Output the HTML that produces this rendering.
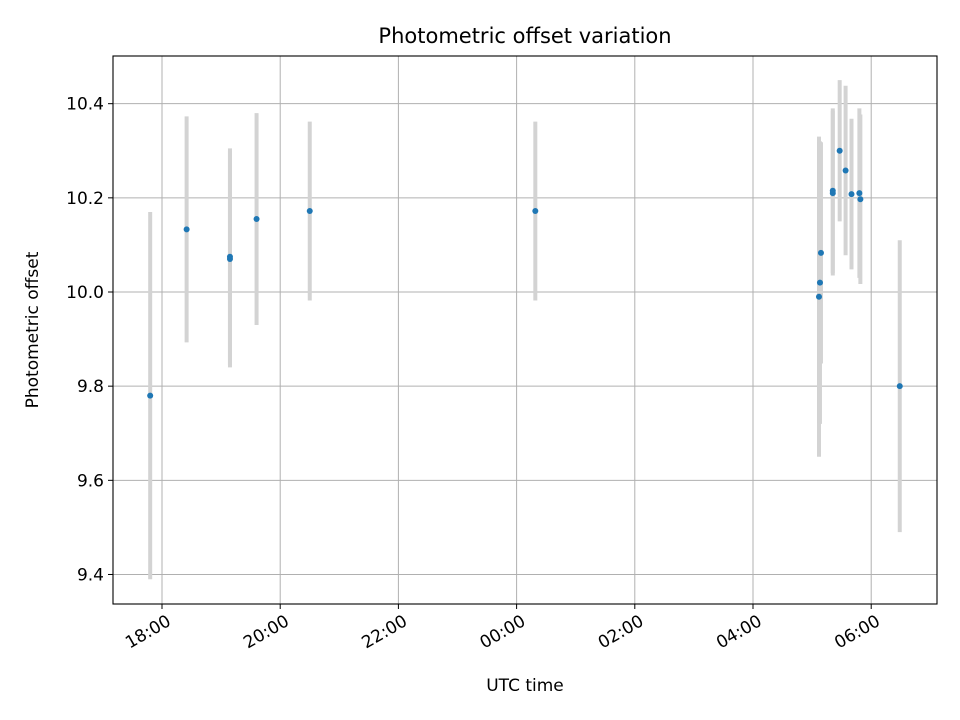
<!DOCTYPE html>
<html><head><meta charset="utf-8"><style>
body{margin:0;background:#fff;}
svg{display:block;font-family:"DejaVu Sans","Liberation Sans",sans-serif;}
</style></head><body>
<svg id="chart" width="960" height="720">
<text x="525" y="43" text-anchor="middle" font-size="21">Photometric offset variation</text>
<text x="525" y="691" text-anchor="middle" font-size="17">UTC time</text>
<text transform="translate(38,330) rotate(-90)" text-anchor="middle" font-size="17">Photometric offset</text>
<g id="grid"></g><g id="bars"></g><g id="pts"></g><g id="ticks"></g>
<rect x="113" y="56" width="824" height="548" fill="none" stroke="#000" stroke-width="1.1"/>
</svg>
<script>
// minutes since 18:00
const times = [-12, 25, 69, 69, 96, 150, 379, 667, 668, 669, 681, 681, 688, 694, 700, 708, 709, 749];
const values = [9.78, 10.133, 10.075, 10.07, 10.155, 10.172, 10.172, 9.99, 10.02, 10.083, 10.21, 10.215, 10.30, 10.258, 10.208, 10.21, 10.197, 9.80];
const errors = [0.39, 0.24, 0.23, 0.23, 0.225, 0.19, 0.19, 0.34, 0.30, 0.235, 0.175, 0.175, 0.15, 0.18, 0.16, 0.18, 0.18, 0.31];
const xTickMinutes = [0, 120, 240, 360, 480, 600, 720];
const xTickLabels = ["18:00", "20:00", "22:00", "00:00", "02:00", "04:00", "06:00"];
const yTicks = [9.4, 9.6, 9.8, 10.0, 10.2, 10.4];

const NS = "http://www.w3.org/2000/svg";
const X = m => 162 + m * (59.1 / 60);
const Y = v => 292 - (v - 10.0) * 470.8;
function mk(tag, attrs, parent){const e=document.createElementNS(NS,tag);for(const k in attrs)e.setAttribute(k,attrs[k]);document.getElementById(parent).appendChild(e);return e;}

xTickMinutes.forEach((m,i)=>{
  const x=X(m);
  const g=mk('line',{x1:x,x2:x,y1:56,y2:604,stroke:'#b0b0b0','stroke-width':1},'grid');
  
  
  const t=mk('line',{x1:x,x2:x,y1:604,y2:609,stroke:'#000','stroke-width':1},'ticks');
  
  
  const l=mk('text',{x:x+4,y:626,'text-anchor':'end','font-size':17,transform:`rotate(-30 ${x+4} 614)`},'ticks');
  l.textContent=xTickLabels[i];
  
  
});
yTicks.forEach(v=>{
  const y=Y(v);
  const g=mk('line',{x1:113,x2:937,y1:y,y2:y,stroke:'#b0b0b0','stroke-width':1},'grid');
  
  
  const t=mk('line',{x1:108,x2:113,y1:y,y2:y,stroke:'#000','stroke-width':1},'ticks');
  
  
  const l=mk('text',{x:104,y:y+6,'text-anchor':'end','font-size':17},'ticks');
  l.textContent=v.toFixed(1);
  
  
});
times.forEach((m,i)=>{
  const x=X(m);
  const b=mk('line',{x1:x,x2:x,y1:Y(values[i]+errors[i]),y2:Y(values[i]-errors[i]),stroke:'#d3d3d3','stroke-width':4},'bars');
  
  
  const p=mk('circle',{cx:x,cy:Y(values[i]),r:3,fill:'#1f77b4'},'pts');
  
  
});
</script>
</body></html>
